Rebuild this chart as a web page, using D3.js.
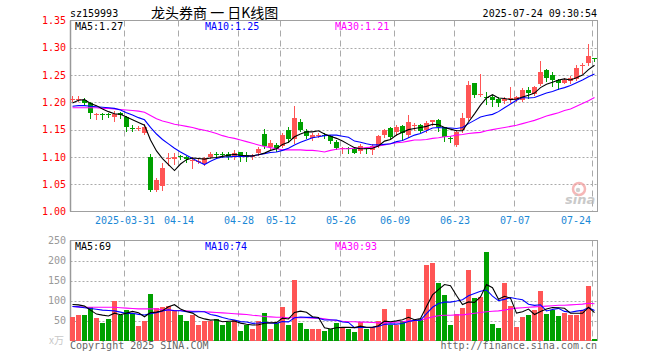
<!DOCTYPE html>
<html><head><meta charset="utf-8">
<script src="https://cdn.jsdelivr.net/npm/d3@7"></script>
<style>body{margin:0;background:#fff}svg{display:block}</style>
</head><body>
<svg id="c" width="660" height="360"></svg>
<script>
// ---------------- data ----------------
const dates = [
"03-18","03-19","03-20","03-21","03-24","03-25","03-26","03-27","03-28","03-31",
"04-01","04-02","04-03","04-07","04-08","04-09","04-10","04-11","04-14","04-15",
"04-16","04-17","04-18","04-21","04-22","04-23","04-24","04-25","04-28","04-29",
"04-30","05-06","05-07","05-08","05-09","05-12","05-13","05-14","05-15","05-16",
"05-19","05-20","05-21","05-22","05-23","05-26","05-27","05-28","05-29","05-30",
"06-03","06-04","06-05","06-06","06-09","06-10","06-11","06-12","06-13","06-16",
"06-17","06-18","06-19","06-20","06-23","06-24","06-25","06-26","06-27","06-30",
"07-01","07-02","07-03","07-04","07-07","07-08","07-09","07-10","07-11","07-14",
"07-15","07-16","07-17","07-18","07-21","07-22","07-23","07-24"];

const opens = [
1.206,1.206,1.205,1.199,1.178,1.179,1.179,1.174,1.181,1.173,
1.153,1.152,1.144,1.100,1.040,1.046,1.097,1.097,1.101,1.100,
1.093,1.092,1.087,1.100,1.106,1.106,1.1055,1.1006,1.1085,1.1037,
1.101,1.1067,1.142,1.1177,1.122,1.120,1.1494,1.1323,1.164,1.148,
1.1347,1.140,1.141,1.1384,1.128,1.115,1.116,1.114,1.1116,1.116,
1.1128,1.120,1.1402,1.1524,1.1463,1.1567,1.1402,1.158,1.1585,1.1494,
1.164,1.1677,1.1543,1.134,1.122,1.1494,1.172,1.235,1.213,1.209,
1.2104,1.2055,1.203,1.2055,1.2043,1.2043,1.2226,1.2152,1.2329,1.2591,
1.250,1.2409,1.236,1.2396,1.2421,1.268,1.2713,1.2805];
const highs = [
1.211,1.211,1.208,1.200,1.181,1.181,1.181,1.184,1.183,1.175,
1.158,1.156,1.160,1.106,1.061,1.088,1.108,1.107,1.104,1.102,
1.099,1.096,1.100,1.109,1.109,1.109,1.109,1.113,1.109,1.1085,
1.106,1.1177,1.1506,1.131,1.126,1.143,1.154,1.1933,1.169,1.1506,
1.144,1.144,1.143,1.141,1.131,1.119,1.119,1.118,1.124,1.118,
1.124,1.141,1.152,1.154,1.158,1.1585,1.1768,1.1628,1.160,1.166,
1.1677,1.169,1.1555,1.1384,1.1494,1.181,1.2385,1.236,1.2518,1.2195,
1.2134,1.210,1.210,1.229,1.2116,1.2256,1.2287,1.230,1.2762,1.2604,
1.2561,1.242,1.244,1.248,1.2683,1.2726,1.3067,1.2805];
const lows = [
1.203,1.203,1.196,1.172,1.169,1.170,1.173,1.166,1.172,1.147,
1.147,1.149,1.142,1.038,1.038,1.039,1.085,1.087,1.097,1.090,
1.079,1.088,1.086,1.098,1.098,1.099,1.096,1.097,1.093,1.093,
1.097,1.1037,1.1164,1.113,1.110,1.119,1.128,1.126,1.148,1.134,
1.131,1.136,1.134,1.125,1.114,1.108,1.107,1.107,1.107,1.107,
1.106,1.119,1.137,1.132,1.141,1.131,1.1372,1.1494,1.1463,1.146,
1.159,1.148,1.1299,1.128,1.120,1.1463,1.168,1.2104,1.212,1.197,
1.194,1.193,1.198,1.201,1.2024,1.2024,1.2073,1.2134,1.2317,1.2396,
1.2299,1.2238,1.2348,1.236,1.2409,1.2543,1.2683,1.2762];
const closes = [
1.207,1.207,1.198,1.180,1.179,1.178,1.178,1.178,1.177,1.154,
1.152,1.153,1.155,1.039,1.058,1.079,1.098,1.099,1.100,1.097,
1.094,1.093,1.098,1.106,1.105,1.105,1.1006,1.1067,1.0994,1.0994,
1.102,1.1146,1.120,1.1262,1.114,1.1408,1.1323,1.1713,1.149,1.1384,
1.1408,1.141,1.140,1.130,1.1159,1.116,1.115,1.108,1.120,1.115,
1.120,1.1384,1.1494,1.1372,1.1555,1.1433,1.1646,1.1585,1.1482,1.1628,
1.1677,1.1555,1.136,1.1335,1.1463,1.1707,1.231,1.213,1.215,1.208,
1.2043,1.1994,1.207,1.2085,1.2104,1.2226,1.2165,1.2287,1.2555,1.2439,
1.2409,1.2348,1.2409,1.2439,1.2622,1.2683,1.2848,1.2799];

const ma5 = [
1.199,1.204,1.205,1.198,1.194,1.188,1.183,1.179,1.178,1.173,
1.168,1.163,1.158,1.131,1.111,1.097,1.086,1.075,1.087,1.095,
1.098,1.097,1.096,1.098,1.099,1.101,1.103,1.105,1.103,1.102,
1.102,1.104,1.107,1.112,1.115,1.123,1.127,1.137,1.142,1.146,
1.146,1.148,1.142,1.138,1.134,1.129,1.123,1.117,1.115,1.115,
1.116,1.120,1.129,1.132,1.140,1.145,1.150,1.152,1.154,1.156,
1.160,1.159,1.154,1.151,1.148,1.148,1.164,1.179,1.195,1.208,
1.214,1.208,1.207,1.205,1.206,1.210,1.213,1.217,1.227,1.233,
1.237,1.241,1.243,1.241,1.245,1.250,1.260,1.268];
const ma10 = [
1.193,1.194,1.194,1.193,1.192,1.191,1.190,1.189,1.186,1.181,
1.177,1.172,1.168,1.154,1.142,1.132,1.124,1.116,1.109,1.103,
1.097,1.091,1.086,1.092,1.097,1.100,1.100,1.101,1.101,1.101,
1.102,1.104,1.106,1.108,1.109,1.112,1.116,1.122,1.127,1.131,
1.135,1.137,1.139,1.140,1.140,1.138,1.136,1.129,1.127,1.124,
1.122,1.122,1.123,1.124,1.128,1.130,1.135,1.140,1.143,1.148,
1.153,1.154,1.153,1.153,1.152,1.154,1.161,1.167,1.173,1.176,
1.178,1.183,1.190,1.197,1.204,1.209,1.208,1.209,1.213,1.217,
1.220,1.224,1.227,1.231,1.236,1.241,1.247,1.252];
const ma30 = [
1.190,1.190,1.190,1.190,1.190,1.189,1.189,1.188,1.187,1.186,
1.185,1.184,1.182,1.176,1.170,1.166,1.163,1.160,1.158,1.156,
1.154,1.151,1.149,1.146,1.143,1.139,1.136,1.134,1.131,1.128,
1.125,1.122,1.119,1.117,1.115,1.113,1.113,1.113,1.113,1.112,
1.112,1.111,1.109,1.112,1.114,1.115,1.115,1.116,1.116,1.117,
1.118,1.120,1.122,1.124,1.126,1.127,1.129,1.131,1.131,1.132,
1.134,1.135,1.137,1.138,1.140,1.141,1.143,1.144,1.145,1.148,
1.150,1.152,1.154,1.156,1.158,1.161,1.164,1.167,1.171,1.175,
1.178,1.181,1.185,1.188,1.193,1.198,1.203,1.209];

const volumes = [
58,65,65,85,57,45,55,100,65,77,
67,37.5,50,117.5,82.5,85,87.5,75,65,50,
65,40,50,50,54,40,47.5,51,25,40,
30,50,70,30,44,85,40,152.5,45,30,
30,30,25,29,45,35,30,22.5,47.5,30,
35,50,80,40,40,50,80,50,55,190,
195,145,115,40,67.5,82.5,177.5,107.5,110,222.5,
42.5,32.5,145,87.5,35,60,65,77.5,125,67.5,
77.5,62.5,70,65,65,77.5,137.5,2.5];
const volMa5 = [
90,89,86,76,66,63.4,61.4,68.4,64.4,68.4,
72.8,69.3,59.3,69.8,70.9,74.5,84.5,89.5,79,72.5,
68.5,59,54,51,51.8,46.8,48.3,48.5,43.5,40.7,
38.7,39.2,43,44,44.8,55.8,53.8,70.3,73.3,70.5,
59.5,57.5,32,28.8,31.8,32.8,32.8,32.3,36,33,
33,37,48.5,47,49,52,58,52,55,85,
114,127,140,137,112.5,90,96.5,95,109,140,
132,103,110.5,106,68.5,72,78.5,65,72.5,79,
82.5,82,80.5,68.5,68,68,83,69.5];
const volMa10 = [
85,84,82,80,78,76,75,74,71,67.2,
68.1,65.4,63.9,67.1,69.7,73.7,76.9,74.4,74.4,71.7,
71.5,71.8,71.8,65,62.2,57.7,53.7,51.3,47.3,46.3,
42.8,43.8,45.8,43.8,42.8,47.3,46.5,56.7,58.7,57.7,
57.7,55.7,51.2,51.1,51.2,46.2,45.2,32.2,32.4,32.4,
32.9,34.9,40.4,41.5,41,42.5,47.5,50.3,51,67,
83,92.5,96,96,98.8,102,111.8,117.5,123,126.3,
111,99.8,102.8,107.5,104.3,102,90.8,87.8,89.3,73.8,
77.3,80.3,72.8,70.5,73.5,75.3,82.5,75];
const volMa30 = [
85,84,83,83,83,83,83,83,82,81,
80,79,79,79,79,77,76,75,75,74,
73,73,72,71,70,69,68,67,66,65,
63,62,60,59,58,58,57,57,57,57,
56,56,54,52,50,48,47,47,46,46,
45,44,44,45,46,47,49,50,51,55,
59,62,63,63,64,64,66,68,70,72,
73,74,76,79,81,82,83,84,85,86,
87,88,88,89,90,91,93,92];

const priceTicks = [1.00,1.05,1.10,1.15,1.20,1.25,1.30,1.35];
const volTicks = [50,100,150,200,250];
const xTickDates = ["03-31","04-14","04-28","05-12","05-26","06-09","06-23","07-07","07-24"];
const xTickLabels = ["2025-03-31","04-14","04-28","05-12","05-26","06-09","06-23","07-07","07-24"];

const header = {code:"sz159993", title:"龙头券商 一 日K线图", time:"2025-07-24 09:30:54"};
const priceLegend = ["MA5:1.27","MA10:1.25","MA30:1.21"];
const volLegend = ["MA5:69","MA10:74","MA30:93"];

// ---------------- drawing ----------------
const svg = d3.select("#c");
const MONO = "'DejaVu Sans Mono', 'Liberation Mono', monospace";
const RED = "#ff5555", GREEN = "#00a000";
const L = 70.5, R = 597.5, PT = 20.5, PB = 211.5, VT = 240.5, VB = 340.5;

const x = d3.scaleBand().domain(dates).range([69.5, 597.5]).padding(0);
const cx = d => x(d) + 3;
const gx = d => x(d) + 1;
const y = d3.scaleLinear().domain([1.00, 1.35]).range([PB, PT]);
const yv = d3.scaleLinear().domain([0, 250]).range([VB, VT]);

const rows = dates.map((d, i) => ({d, o: opens[i], h: highs[i], l: lows[i], c: closes[i], v: volumes[i]}));
const isUp = r => r.c >= r.o;

// header
svg.append("text").attr("x", 70).attr("y", 16.5).attr("font-family", MONO).attr("font-size", 10)
  .attr("fill", "#000").text(header.code);
svg.append("text").attr("x", 151).attr("y", 17.5).attr("font-family", "'Noto Sans CJK SC', sans-serif")
  .attr("font-size", 14).attr("fill", "#000").text(header.title);
svg.append("text").attr("x", 597).attr("y", 16.5).attr("text-anchor", "end").attr("font-family", MONO)
  .attr("font-size", 10).attr("fill", "#000").text(header.time);

// grids
const grid = svg.append("g");
grid.selectAll(".hp").data(priceTicks.slice(1, -1)).join("line")
  .attr("x1", L).attr("x2", R).attr("y1", d => Math.round(y(d)) + 0.5).attr("y2", d => Math.round(y(d)) + 0.5)
  .attr("stroke", "#aaa").attr("stroke-dasharray", "2,2");
grid.selectAll(".hv").data(volTicks.slice(0, -1)).join("line")
  .attr("x1", L).attr("x2", R).attr("y1", d => Math.round(yv(d)) + 0.5).attr("y2", d => Math.round(yv(d)) + 0.5)
  .attr("stroke", "#aaa").attr("stroke-dasharray", "2,2");
[[PT, PB], [VT, VB]].forEach(([a, b]) => {
  grid.append("g").selectAll("line").data(xTickDates).join("line")
    .attr("x1", gx).attr("x2", gx).attr("y1", a).attr("y2", b)
    .attr("stroke", "#aaa").attr("stroke-dasharray", "6,4");
});

// sina watermark
const wm = svg.append("g").attr("opacity", 0.75);
wm.append("circle").attr("cx", 579).attr("cy", 189).attr("r", 6).attr("fill", "none").attr("stroke", "#f3a0a0").attr("stroke-width", 2.5);
wm.append("circle").attr("cx", 578).attr("cy", 190).attr("r", 2.2).attr("fill", "#c0c0c0");
wm.append("text").attr("x", 565).attr("y", 204).attr("font-family", "'DejaVu Sans', sans-serif")
  .attr("font-size", 13).attr("font-weight", "bold").attr("font-style", "italic").attr("fill", "#b8b8b8").text("sina");

// frames
[[PT, PB], [VT, VB]].forEach(([a, b]) => {
  svg.append("rect").attr("x", L).attr("y", a).attr("width", R - L).attr("height", b - a)
    .attr("fill", "none").attr("stroke", "#a0a0a0");
  svg.append("line").attr("x1", L).attr("x2", L).attr("y1", a).attr("y2", b)
    .attr("stroke", "#999").attr("stroke-width", 1.5);
});

// y axes
const ya = svg.append("g").attr("transform", `translate(${L - 0.5},0)`)
  .call(d3.axisLeft(y).tickValues(priceTicks).tickFormat(d3.format(".2f")).tickSize(0).tickPadding(4));
ya.select(".domain").remove();
ya.selectAll("text").attr("font-family", MONO).attr("font-size", 10).attr("fill", "#ff0000");

const yva = svg.append("g").attr("transform", `translate(${L - 0.5},0)`)
  .call(d3.axisLeft(yv).tickValues(volTicks).tickFormat(d3.format("d")).tickSize(0).tickPadding(4));
yva.select(".domain").remove();
yva.selectAll("text").attr("font-family", MONO).attr("font-size", 10).attr("fill", "#999");
svg.append("text").attr("x", 49).attr("y", 344).attr("font-family", "'Noto Sans CJK SC', sans-serif")
  .attr("font-size", 10).attr("fill", "#c8c8c8").text("x万");

// x axis
const xa = svg.append("g").attr("transform", `translate(0,${PB + 3})`)
  .call(d3.axisBottom(d3.scalePoint().domain(dates).range([70.5, 592.5]))
    .tickValues(xTickDates).tickFormat((d, k) => xTickLabels[k]).tickSize(0).tickPadding(2));
xa.select(".domain").remove();
xa.selectAll("text").attr("font-family", MONO).attr("font-size", 10).attr("fill", "#1b88d6");
xa.selectAll(".tick").filter(d => d === xTickDates[xTickDates.length - 1]).select("text").attr("dx", -17);

// candles
const cg = svg.append("g").attr("shape-rendering", "crispEdges");
cg.selectAll(".wick").data(rows).join("line")
  .attr("x1", r => cx(r.d)).attr("x2", r => cx(r.d))
  .attr("y1", r => Math.round(y(r.h))).attr("y2", r => Math.round(y(r.l)) + 1)
  .attr("stroke", r => isUp(r) ? RED : GREEN);
cg.selectAll(".body").data(rows).join("rect")
  .attr("x", r => cx(r.d) - 2.5).attr("width", 5)
  .attr("y", r => Math.round(y(Math.max(r.o, r.c))))
  .attr("height", r => Math.max(1, Math.round(y(Math.min(r.o, r.c))) - Math.round(y(Math.max(r.o, r.c)))))
  .attr("fill", r => isUp(r) ? RED : GREEN);

// price MA lines
const pline = arr => d3.line().x((v, i) => cx(dates[i])).y(v => y(v))(arr);
[[ma30, "#ff00ff"], [ma10, "#0000ff"], [ma5, "#000000"]].forEach(([a, col]) => {
  svg.append("path").attr("d", pline(a)).attr("fill", "none").attr("stroke", col).attr("stroke-width", 1.1);
});

// volume bars
const vg = svg.append("g").attr("shape-rendering", "crispEdges");
vg.selectAll("rect").data(rows).join("rect")
  .attr("x", r => cx(r.d) - 2.5).attr("width", 5)
  .attr("y", r => Math.round(yv(r.v)))
  .attr("height", r => Math.max(1, 341 - Math.round(yv(r.v))))
  .attr("fill", r => isUp(r) ? RED : GREEN);

const vline = arr => d3.line().x((v, i) => cx(dates[i])).y(v => yv(v))(arr);
[[volMa30, "#ff00ff"], [volMa10, "#0000ff"], [volMa5, "#000000"]].forEach(([a, col]) => {
  svg.append("path").attr("d", vline(a)).attr("fill", "none").attr("stroke", col).attr("stroke-width", 1.1);
});

// legends
const legCols = ["#000", "#0000ff", "#ff00ff"];
const legX = [75, 205, 335];
priceLegend.forEach((t, k) => svg.append("text").attr("x", legX[k]).attr("y", 30)
  .attr("font-family", MONO).attr("font-size", 10).attr("fill", legCols[k]).text(t));
volLegend.forEach((t, k) => svg.append("text").attr("x", legX[k]).attr("y", 250)
  .attr("font-family", MONO).attr("font-size", 10).attr("fill", legCols[k]).text(t));

// footer
svg.append("text").attr("x", 70).attr("y", 349).attr("font-family", MONO).attr("font-size", 10)
  .attr("fill", "#666").text("Copyright 2025 SINA.COM");
svg.append("text").attr("x", 597).attr("y", 349).attr("text-anchor", "end").attr("font-family", MONO)
  .attr("font-size", 10).attr("fill", "#666").text("http://finance.sina.com.cn");
</script>
</body></html>
